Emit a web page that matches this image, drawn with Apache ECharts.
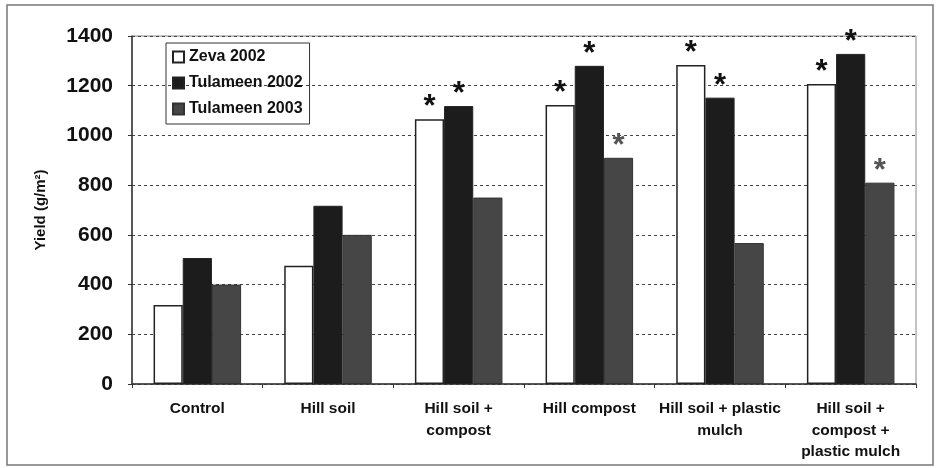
<!DOCTYPE html>
<html>
<head>
<meta charset="utf-8">
<script src="https://cdn.jsdelivr.net/npm/echarts@6/dist/echarts.min.js"></script>
<style>html,body{margin:0;padding:0;background:#fff}#c{width:938px;height:468px}</style>
</head>
<body>
<div id="c"></div>
<script>
var categories = ['Control', 'Hill soil', 'Hill soil +\ncompost', 'Hill compost', 'Hill soil + plastic\nmulch', 'Hill soil +\ncompost +\nplastic mulch'];
var zeva2002 = [318, 476, 1065, 1122, 1283, 1207];
var tulameen2002 = [507, 717, 1118, 1280, 1152, 1328];
var tulameen2003 = [400, 600, 750, 910, 567, 810];
var zevaStar = [0, 0, 1, 1, 1, 1];
var tul02Star = [0, 0, 1, 1, 1, 1];
var tul03Star = [0, 0, 0, 1, 0, 1];
var yTicks = [0, 200, 400, 600, 800, 1000, 1200, 1400];

var font = 'Liberation Sans, Arial, sans-serif';
function starLabel(flags, color) {
  return {
    show: true, position: 'top', distance: -4,
    formatter: function (p) { return flags[p.dataIndex] ? '*' : ''; },
    fontSize: 31, fontWeight: 'bold', color: color, fontFamily: font
  };
}
var chart = echarts.init(document.getElementById('c'));
chart.setOption({
  animation: false,
  backgroundColor: '#fff',
  graphic: [{type: 'rect', shape: {x: 7, y: 5, width: 926, height: 460}, style: {fill: 'none', stroke: '#777', lineWidth: 1.5}, z: -1}],
  grid: {left: 132, right: 22, top: 36, bottom: 84, show: true, borderColor: '#888', borderWidth: 1},
  legend: {
    orient: 'vertical', left: 166, top: 43, padding: [5, 7, 6, 6], itemGap: 8,
    itemWidth: 11, itemHeight: 11, icon: 'rect', borderColor: '#333', borderWidth: 1,
    textStyle: {fontFamily: font, fontWeight: 'bold', fontSize: 16, color: '#111', lineHeight: 18},
    data: ['Zeva 2002', 'Tulameen 2002', 'Tulameen 2003']
  },
  xAxis: {
    type: 'category', data: categories,
    axisLine: {lineStyle: {color: '#333', width: 1.5}},
    axisTick: {show: true, length: 4, lineStyle: {color: '#333'}},
    axisLabel: {fontFamily: font, fontWeight: 'bold', fontSize: 15.5, color: '#111', margin: 14, lineHeight: 21.5, interval: 0}
  },
  yAxis: {
    type: 'value', min: 0, max: 1400, interval: 200,
    name: 'Yield (g/m²)', nameLocation: 'middle', nameGap: 84, nameRotate: 90,
    nameTextStyle: {fontFamily: font, fontWeight: 'bold', fontSize: 15, color: '#111'},
    axisLine: {show: true, lineStyle: {color: '#333', width: 1.5}},
    axisTick: {show: true, length: 4, lineStyle: {color: '#333'}},
    axisLabel: {fontFamily: font, fontWeight: 'bold', fontSize: 21, color: '#111', margin: 19,
      formatter: function (v) { return yTicks.indexOf(v) >= 0 ? String(v) : ''; }},
    splitLine: {show: true, lineStyle: {color: '#444', type: [3, 3], width: 1}}
  },
  series: [
    {name: 'Zeva 2002', type: 'bar', data: zeva2002, barGap: '0%', barCategoryGap: '33%',
      itemStyle: {color: '#ffffff', borderColor: '#222', borderWidth: 1.5}, label: starLabel(zevaStar, '#111')},
    {name: 'Tulameen 2002', type: 'bar', data: tulameen2002,
      itemStyle: {color: '#1c1c1c', borderColor: '#222', borderWidth: 1}, label: starLabel(tul02Star, '#111')},
    {name: 'Tulameen 2003', type: 'bar', data: tulameen2003,
      itemStyle: {color: '#464646', borderColor: '#333', borderWidth: 1}, label: starLabel(tul03Star, '#555')}
  ]
});
</script>
</body>
</html>
